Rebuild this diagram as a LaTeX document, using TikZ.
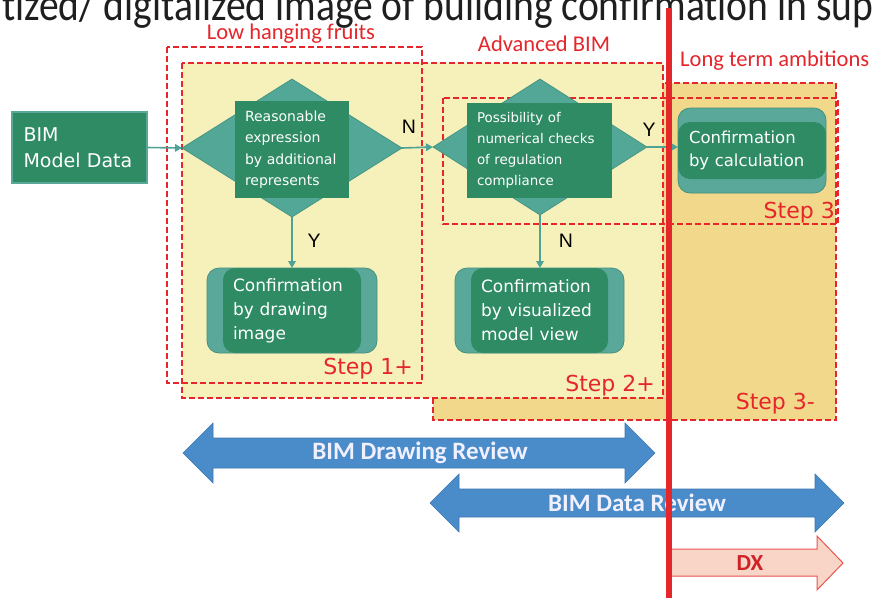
\documentclass[tikz,border=0pt]{standalone}
\usepackage{fontspec}
\setmainfont{Carlito}
\newfontfamily\ttl{Carlito}[Ligatures=NoCommon]
\newfontfamily\dvs{DejaVu Sans}
\newfontfamily\lbs{Liberation Sans}
\usetikzlibrary{shapes.geometric,arrows.meta,calc}
\definecolor{rgreen}{HTML}{2E8B64}
\definecolor{tstripe}{HTML}{5AA899}
\definecolor{tborder}{HTML}{3F8F7E}
\definecolor{tdiam}{HTML}{52A796}
\definecolor{tline}{HTML}{4FA396}
\definecolor{lyel}{HTML}{F6F0BA}
\definecolor{dyel}{HTML}{F2D88A}
\definecolor{redc}{HTML}{E5262B}
\definecolor{bluea}{HTML}{4A8BC9}
\definecolor{blueb}{HTML}{3C78B2}
\definecolor{dxfill}{HTML}{F9D5C8}
\definecolor{dxline}{HTML}{E8564E}
\begin{document}
\begin{tikzpicture}[x=1pt,y=-1pt,
  region/.style={draw=redc, line width=1.8pt, dash pattern=on 6pt off 3pt},
  redlab/.style={text=redc, font=\fontsize{22.5}{27}\selectfont, inner sep=0pt},
  steplab/.style={text=redc, font=\dvs\fontsize{22}{26}\selectfont, inner sep=0pt},
  yn/.style={text=black, font=\lbs\fontsize{19.5}{22}\selectfont, inner sep=0pt},
  conn/.style={draw=tline, line width=1.6pt, -{Triangle[length=7pt,width=7.5pt]}},
  diam/.style={diamond, fill=tdiam, draw=tborder, line width=0.6pt, inner sep=0pt, outer sep=0pt},
  inbox/.style={rectangle, fill=rgreen, text=white, align=left, inner xsep=10pt, inner ysep=0pt},
  stripev/.style={rectangle, rounded corners=12pt, fill=tstripe, draw=tborder, line width=0.7pt,
    text=white, align=left, inner ysep=0pt, outer sep=0pt,
    path picture={\fill[rgreen] ([xshift=16pt]path picture bounding box.south west) rectangle ([xshift=-16pt]path picture bounding box.north east);}},
  stripeh/.style={rectangle, rounded corners=12pt, fill=tstripe, draw=tborder, line width=0.7pt,
    text=white, align=left, inner ysep=0pt, outer sep=0pt,
    path picture={\fill[rgreen] ([yshift=14pt]path picture bounding box.south west) rectangle ([yshift=-14pt]path picture bounding box.north east);}},
  barrow/.style={fill=bluea, draw=blueb, line width=0.6pt},
  barlab/.style={text=white!94!blue, font=\bfseries\fontsize{25}{30}\selectfont, inner sep=0pt}
]
\useasboundingbox (0,0) rectangle (875,598);
\fill[white] (0,0) rectangle (875,598);

% title (cut off at the top)
\begin{scope}
\clip (0,0) rectangle (875,598);
\node[anchor=base west, inner sep=0pt, text=black!88, font=\ttl\fontsize{46}{52}\selectfont] (title) at (2,20) {\scalebox{0.86}[1]{tized/ digitalized image of building confirmation in sup}};
\end{scope}

% regions
\fill[dyel] (433,83) rectangle (836,420);
\draw[region] (433,83) rectangle (836,420);
\fill[lyel] (182,63) rectangle (663,398);
\draw[region] (182,63) rectangle (663,398);
\draw[region] (167,47) rectangle (422,383);
\draw[region] (443,98) rectangle (838,224);

% region labels
\node[redlab, anchor=base] (lhf) at (291,39) {Low hanging fruits};
\node[redlab, anchor=base] (adv) at (544,51) {Advanced BIM};
\node[redlab, anchor=base west] (lta) at (680,66) {Long term ambitions};
\node[steplab, anchor=base east] (s1) at (413,374) {Step 1+};
\node[steplab, anchor=base east] (s2) at (655,391) {Step 2+};
\node[steplab, anchor=base east] (s3m) at (815,409) {Step 3-};
\node[steplab, anchor=base east] (s3) at (835,218) {Step 3};

% nodes
\node[rectangle, fill=rgreen, draw=tstripe, line width=1.6pt, text=white, align=left,
  minimum width=135pt, minimum height=71pt, text width=112pt, inner xsep=11.5pt, inner ysep=0pt, outer sep=0pt,
  font=\dvs\fontsize{19}{26}\selectfont] (bim) at (79.5,147.5) {BIM\\Model Data};

\node[diam, minimum width=220pt, minimum height=138pt] (d1) at (292,148) {};
\node[inbox, minimum height=97pt, text width=94pt, font=\dvs\fontsize{14}{21.5}\selectfont] (d1t) at (292,149.5) {Reasonable\\expression\\by additional\\represents};

\node[diam, minimum width=214pt, minimum height=136pt] (d2) at (540,147) {};
\node[inbox, minimum height=95pt, text width=125pt, font=\dvs\fontsize{13.4}{21}\selectfont] (d2t) at (539.5,150.5) {Possibility of\\numerical checks\\of regulation\\compliance};

\node[stripeh, minimum height=85pt, text width=126pt, inner xsep=11pt, font=\dvs\fontsize{16.5}{23}\selectfont] (calc) at (752,150.5) {Confirmation\\by calculation};

\node[stripev, minimum height=85pt, text width=118pt, inner xsep=26pt, font=\dvs\fontsize{17}{24}\selectfont] (draw) at (292,310.5) {Confirmation\\by drawing\\image};

\node[stripev, minimum height=85pt, text width=117pt, inner xsep=26pt, font=\dvs\fontsize{17}{24}\selectfont] (vis) at (539.5,310.5) {Confirmation\\by visualized\\model view};

% connectors
\draw[conn] (bim.east) -- (d1.west);
\draw[conn] (d1.east) -- (d2.west);
\draw[conn] (d2.east) -- (d2.east -| calc.west);
\draw[conn] (d1.south) -- (draw.north);
\draw[conn] (d2.south) -- (d2.south |- vis.north);

\node[yn] (n1) at (409,127) {N};
\node[yn] (y1) at (649,130) {Y};
\node[yn] (y2) at (314,241) {Y};
\node[yn] (n2) at (566,241) {N};

% block arrows
\draw[barrow] (183,453) -- (213,423) -- (213,438) -- (625,438) -- (625,423) -- (655,453)
  -- (625,483) -- (625,468) -- (213,468) -- (213,483) -- cycle;
\node[barlab] (bdr) at (420,453) {BIM Drawing Review};
\draw[barrow] (430,503) -- (459,474) -- (459,489) -- (815,489) -- (815,474) -- (844,503)
  -- (815,532) -- (815,517) -- (459,517) -- (459,532) -- cycle;
\node[barlab] (bdar) at (637,503) {BIM Data Review};
\draw[fill=dxfill, draw=dxline, line width=1pt] (670,549) -- (817,549) -- (817,536) -- (843,563)
  -- (817,590) -- (817,576) -- (670,576) -- cycle;
\node[text=redc!90!black, font=\bfseries\fontsize{23}{27}\selectfont, inner sep=0pt] (dx) at (750,563) {DX};

% red divider line
\coordinate (rtop) at (669,8);
\coordinate (rbot) at (669,598);
\draw[redc, line width=6pt] (rtop) -- (rbot);
\end{tikzpicture}
\end{document}
